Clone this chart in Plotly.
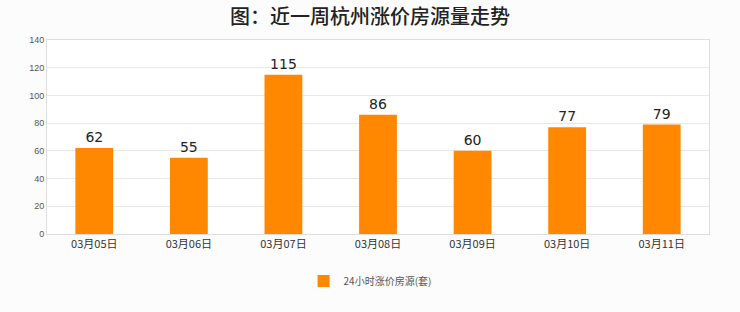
import plotly.graph_objects as go

categories = ["03月05日", "03月06日", "03月07日", "03月08日", "03月09日", "03月10日", "03月11日"]
values = [62, 55, 115, 86, 60, 77, 79]
series_name = "24小时涨价房源(套)"
title_text = "图：近一周杭州涨价房源量走势"
y_ticks = [0, 20, 40, 60, 80, 100, 120, 140]

fig = go.Figure()
fig.add_trace(go.Bar(
    x=categories, y=values, name=series_name,
    marker=dict(color="#ff8800", line=dict(width=0)),
    width=0.4,
    text=[str(v) for v in values], textposition="outside",
    textfont=dict(size=14, color="#222", family="DejaVu Sans"),
    cliponaxis=False,
))

fig.update_layout(
    width=740, height=312,
    margin=dict(l=47, r=31, t=40, b=78, autoexpand=False),
    paper_bgcolor="#fcfcfc", plot_bgcolor="#ffffff",
    title=dict(text=title_text, x=0.5, xanchor="center", yref="container", y=0.945, yanchor="middle",
               font=dict(size=20, color="#222", family="Noto Sans CJK SC", weight=500)),
    showlegend=True,
    legend=dict(orientation="h", x=0.488, xanchor="center", yref="container", y=0.099, yanchor="middle",
                font=dict(size=10, color="#555", family="Noto Sans CJK SC"),
                itemwidth=30, bgcolor="rgba(0,0,0,0)"),
    bargap=0.6,
    xaxis=dict(showline=True, linecolor="#dddddd", linewidth=1, mirror=True,
               tickfont=dict(size=11, color="#333", family="Noto Sans CJK SC"),
               ticks="", fixedrange=True),
    yaxis=dict(range=[0, 140], tickvals=y_ticks, showgrid=True, gridcolor="#e8e8e8",
               showline=True, linecolor="#dddddd", linewidth=1, mirror=True,
               tickfont=dict(size=9, color="#555", family="Liberation Sans"),
               zeroline=False, ticks=""),
)

fig.write_html("out.html")
